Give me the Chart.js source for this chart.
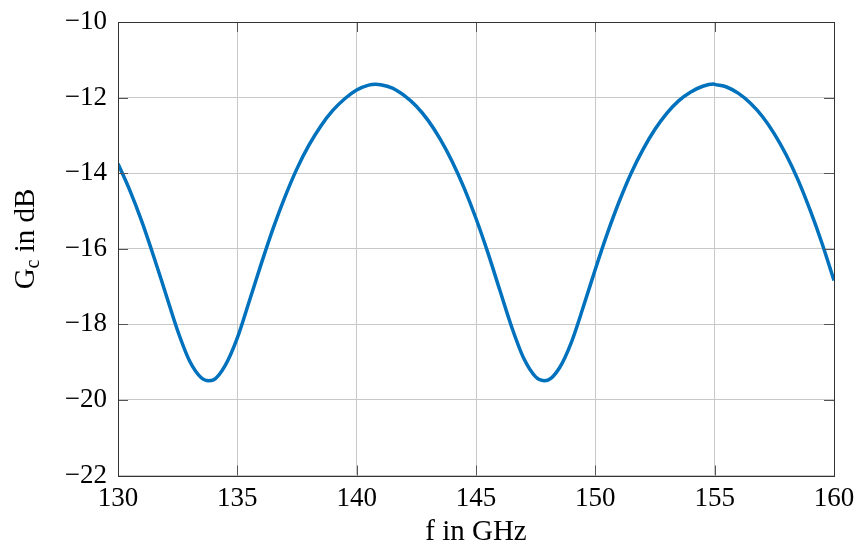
<!DOCTYPE html>
<html lang="en">

<head>
    <meta charset="UTF-8">
    <title>Conversion gain vs. frequency</title>
    <script src="https://cdn.jsdelivr.net/npm/chart.js"></script>
    <style>
        body { margin: 0; background: #fff; }
    </style>
</head>

<body>
    <canvas id="gainChart" width="859" height="548"></canvas>
    <script>

        // frequency in GHz
        const freq = [
            130, 130.5, 131, 131.5, 132, 132.5, 133, 133.5, 133.8,
            134, 134.5, 135, 135.5, 136, 136.5, 137, 137.5, 138, 138.5, 139, 139.5, 140, 140.5, 140.8,
            141, 141.5, 142, 142.5, 143, 143.5, 144, 144.5, 145, 145.5, 146, 146.5, 147, 147.5, 147.85,
            148, 148.5, 149, 149.5, 150, 150.5, 151, 151.5, 152, 152.5, 153, 153.5, 154, 154.5, 154.95,
            155, 155.5, 156, 156.5, 157, 157.5, 158, 158.5, 159, 159.5, 160
        ];

        // conversion gain in dB
        const gain = [
            -13.75, -14.46, -15.28, -16.21, -17.19, -18.17, -18.97, -19.42, -19.49,
            -19.47, -19.08, -18.36, -17.39, -16.40, -15.46, -14.62, -13.88, -13.26, -12.75, -12.34, -12.03, -11.80, -11.67, -11.65,
            -11.66, -11.75, -11.95, -12.23, -12.61, -13.10, -13.69, -14.39, -15.20, -16.11, -17.10, -18.08, -18.90, -19.39, -19.49,
            -19.48, -19.15, -18.47, -17.53, -16.54, -15.60, -14.75, -14.00, -13.37, -12.84, -12.41, -12.08, -11.85, -11.70, -11.64,
            -11.65, -11.72, -11.89, -12.15, -12.50, -12.96, -13.52, -14.19, -14.98, -15.86, -16.84
        ];

        const xTicks = [130, 135, 140, 145, 150, 155, 160];
        const yTicks = [-22, -20, -18, -16, -14, -12, -10];

        const serif = "'Liberation Serif', 'DejaVu Serif', serif";
        const minus = v => (v < 0 ? '\u2212' + Math.abs(v) : String(v));

        // frame box + inward tick marks on all four sides
        const framePlugin = {
            id: 'frame',
            afterDraw(chart) {
                const { ctx, chartArea: a, scales } = chart;
                ctx.save();
                ctx.strokeStyle = '#555';
                ctx.lineWidth = 1;
                ctx.beginPath();
                xTicks.forEach(t => {
                    const x = Math.round(scales.x.getPixelForValue(t)) + 0.5;
                    ctx.moveTo(x, a.bottom); ctx.lineTo(x, a.bottom - 10);
                    ctx.moveTo(x, a.top); ctx.lineTo(x, a.top + 10);
                });
                yTicks.forEach(t => {
                    const y = Math.round(scales.y.getPixelForValue(t)) + 0.5;
                    ctx.moveTo(a.left, y); ctx.lineTo(a.left + 10, y);
                    ctx.moveTo(a.right, y); ctx.lineTo(a.right - 10, y);
                });
                ctx.stroke();
                ctx.strokeStyle = '#333';
                ctx.strokeRect(Math.round(a.left) + 0.5, Math.round(a.top) + 0.5,
                    Math.round(a.right - a.left), Math.round(a.bottom - a.top));
                ctx.restore();
            }
        };

        // y axis title with subscript: G_c in dB
        const yTitlePlugin = {
            id: 'yTitle',
            afterDraw(chart) {
                const { ctx } = chart;
                const big = '29px ' + serif;
                const small = '20px ' + serif;
                ctx.save();
                ctx.translate(34, 239);
                ctx.rotate(-Math.PI / 2);
                ctx.fillStyle = '#000';
                ctx.textBaseline = 'alphabetic';
                ctx.font = big;
                const wG = ctx.measureText('G').width;
                const wRest = ctx.measureText(' in dB').width;
                ctx.font = small;
                const wC = ctx.measureText('c').width;
                let x = -(wG + wC + wRest) / 2;
                ctx.font = big;
                ctx.fillText('G', x, 0);
                x += wG;
                ctx.font = small;
                ctx.fillText('c', x, 5);
                x += wC;
                ctx.font = big;
                ctx.fillText(' in dB', x, 0);
                ctx.restore();
            }
        };

        const data = {
            datasets: [{
                data: freq.map((f, i) => ({ x: f, y: gain[i] })),
                borderColor: '#0072BD',
                borderWidth: 3.5,
                pointRadius: 0,
                cubicInterpolationMode: 'monotone',
                fill: false
            }]
        };

        const config = {
            type: 'line',
            data: data,
            options: {
                responsive: false,
                animation: false,
                layout: {
                    padding: { left: 0, right: 25, top: 22, bottom: 0 }
                },
                plugins: {
                    legend: { display: false },
                    tooltip: { enabled: false }
                },
                scales: {
                    x: {
                        type: 'linear',
                        min: 130,
                        max: 160,
                        afterBuildTicks: s => { s.ticks = xTicks.map(v => ({ value: v })); },
                        afterFit: s => {
                            s.height = 72.5;
                            s.paddingLeft = 0;
                            s.paddingRight = 0;
                        },
                        grid: { color: '#c8c8c8', lineWidth: 1, drawTicks: false },
                        border: { display: false },
                        ticks: {
                            autoSkip: false,
                            maxRotation: 0,
                            padding: 7,
                            color: '#000',
                            font: { family: serif, size: 27 },
                            callback: v => minus(v)
                        },
                        title: {
                            display: true,
                            text: 'f in GHz',
                            color: '#000',
                            font: { family: serif, size: 29 },
                            padding: { top: 0, bottom: -2 }
                        }
                    },
                    y: {
                        min: -22,
                        max: -10,
                        afterBuildTicks: s => { s.ticks = yTicks.map(v => ({ value: v })); },
                        afterFit: s => {
                            s.width = 118;
                            s.paddingTop = 0;
                            s.paddingBottom = 0;
                        },
                        grid: { color: '#c8c8c8', lineWidth: 1, drawTicks: false },
                        border: { display: false },
                        ticks: {
                            padding: 11,
                            color: '#000',
                            font: { family: serif, size: 27 },
                            callback: v => minus(v)
                        }
                    }
                }
            },
            plugins: [framePlugin, yTitlePlugin]
        };

        const ctx = document.querySelector('#gainChart').getContext('2d');
        const gainChart = new Chart(ctx, config);

    </script>
</body>

</html>
